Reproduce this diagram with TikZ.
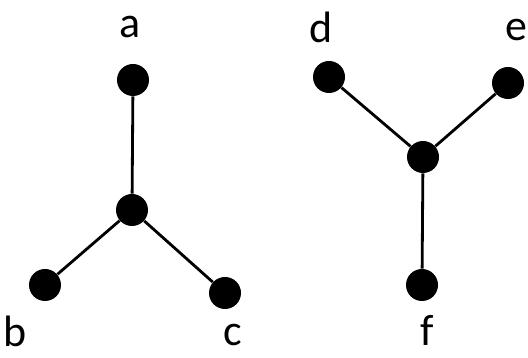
\documentclass[tikz,border=0pt]{standalone}
\usepackage{fontspec}
\setmainfont{Carlito}
\usetikzlibrary{positioning}

\begin{document}
\begin{tikzpicture}[font=\fontsize{25}{30}\selectfont,
	vert/.style={circle, fill=black, inner sep=0pt, minimum size=0.64cm},
	edge/.style={line width=1.6pt, black},
	lab/.style={inner sep=0pt}]
	\useasboundingbox (0,0) rectangle (10.56,7.16);
	% arbol izquierdo
	\foreach \n/\x/\y in {a/2.66/5.56, l/2.64/2.96, b/0.90/1.46, c/4.50/1.30}
		{\node[vert] (\n) at (\x,\y) {};}
	\foreach \u/\v in {a/l, l/b, l/c}
		{\draw[edge] (\u) -- (\v);}
	% arbol derecho
	\foreach \n/\x/\y in {d/6.58/5.62, e/10.16/5.50, r/8.46/4.02, f/8.44/1.46}
		{\node[vert] (\n) at (\x,\y) {};}
	\foreach \u/\v in {d/r, e/r, r/f}
		{\draw[edge] (\u) -- (\v);}
	% etiquetas
	\node[lab] (la) at (2.60,6.62) {a};
	\node[lab] (lb) at (0.30,0.54) {b};
	\node[lab] (lc) at (4.66,0.46) {c};
	\node[lab] (ld) at (6.42,6.62) {d};
	\node[lab] (le) at (10.32,6.56) {e};
	\node[lab] (lf) at (8.54,0.56) {f};
\end{tikzpicture}
\end{document}
